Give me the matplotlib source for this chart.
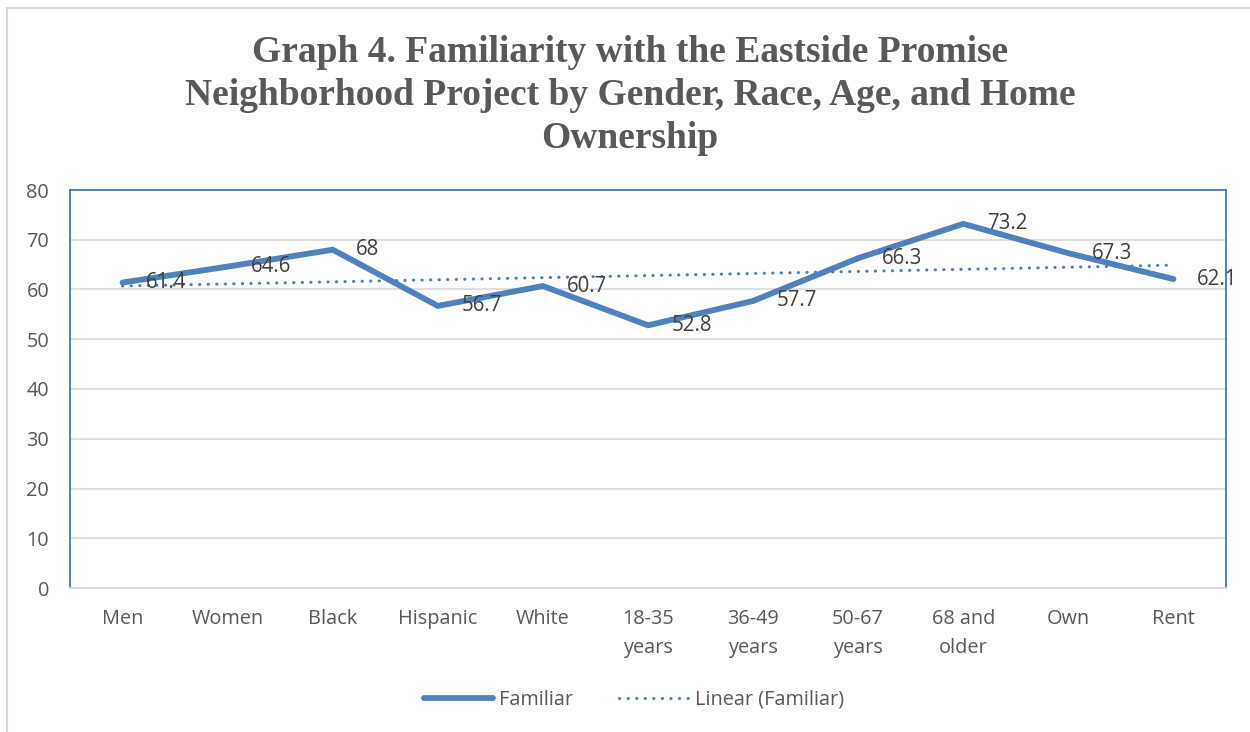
import numpy as np
import matplotlib.pyplot as plt
from matplotlib.patches import Rectangle

categories = ['Men', 'Women', 'Black', 'Hispanic', 'White', '18-35\nyears',
              '36-49\nyears', '50-67\nyears', '68 and\nolder', 'Own', 'Rent']
familiar = [61.4, 64.6, 68, 56.7, 60.7, 52.8, 57.7, 66.3, 73.2, 67.3, 62.1]
labels = ['61.4', '64.6', '68', '56.7', '60.7', '52.8', '57.7', '66.3', '73.2', '67.3', '62.1']

blue = '#4F81BD'
grey_txt = '#595959'

x = np.arange(len(categories))
# linear trendline like Excel's
slope, icpt = np.polyfit(x, familiar, 1)
trend = slope * x + icpt

fig = plt.figure(figsize=(12.5, 7.32), dpi=100)
ax = fig.add_axes([70/1250, 1-588/732, (1226-70)/1250, (588-190)/732])

ax.plot(x, familiar, color=blue, lw=4.2, solid_capstyle='round',
        solid_joinstyle='miter', label='Familiar', zorder=3)
ax.plot(x, trend, color=blue, lw=2.2, linestyle=(0, (0.1, 2.7)),
        dash_capstyle='round', label='Linear (Familiar)', zorder=2)

for xi, yi, lab in zip(x, familiar, labels):
    ax.annotate(lab, (xi, yi), xytext=(17, 0), textcoords='offset points',
                ha='left', va='center', fontsize=14.8, color='#404040',
                family='Open Sans', zorder=4)

ax.set_xlim(-0.5, 10.5)
ax.set_ylim(0, 80)
ax.set_yticks(range(0, 81, 10))
ax.set_xticks(x)
ax.set_xticklabels(categories, family='Open Sans', fontsize=14.3, color=grey_txt,
                   linespacing=1.6, va='top')
for t in ax.get_yticklabels():
    t.set_family('Open Sans')
    t.set_fontsize(14.3)
    t.set_color(grey_txt)
ax.tick_params(axis='both', length=0)
ax.tick_params(axis='x', pad=15)
ax.tick_params(axis='y', pad=15)
ax.grid(axis='y', color='#D9D9D9', lw=1.2)
ax.set_axisbelow(True)

for s in ['left', 'top', 'right']:
    ax.spines[s].set_color(blue)
    ax.spines[s].set_linewidth(1.4)
ax.spines['bottom'].set_color('#D9D9D9')
ax.spines['bottom'].set_linewidth(1.4)

fig.text(0.504, 1-35/732, 'Graph 4. Familiarity with the Eastside Promise\n'
         'Neighborhood Project by Gender, Race, Age, and Home\nOwnership',
         ha='center', va='top', family='Liberation Serif', weight='bold',
         fontsize=27, color=grey_txt, linespacing=1.3)

leg = fig.legend(loc='center', bbox_to_anchor=(0.507, 1-700/732), ncol=2,
                 frameon=False, prop={'family': 'Open Sans', 'size': 14.3},
                 handlelength=3.5, columnspacing=2.3, handletextpad=0.3)
for t in leg.get_texts():
    t.set_color(grey_txt)

fig.patches.append(Rectangle((7/1250, -0.1), 1.2, 1-8/732+0.1,
                             transform=fig.transFigure, fill=False,
                             edgecolor='#D9D9D9', lw=1.5))

plt.savefig('out.png', dpi=100)
